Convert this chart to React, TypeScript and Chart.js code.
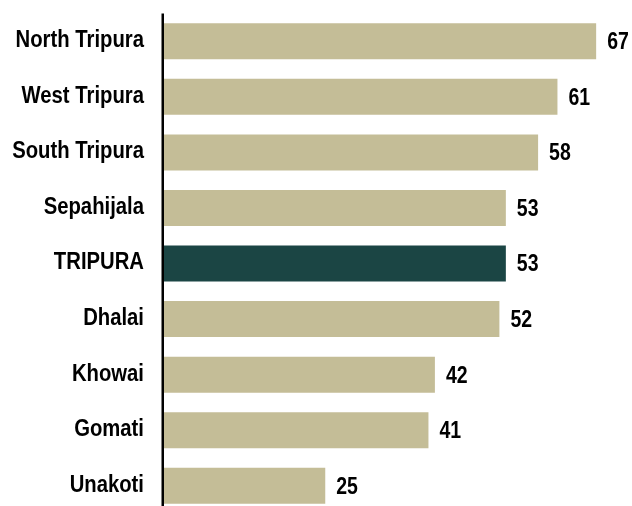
import React, { useEffect, useRef } from "react";
import { Chart, registerables } from "chart.js";

Chart.register(...registerables);

const categories = [
  "North Tripura",
  "West Tripura",
  "South Tripura",
  "Sepahijala",
  "TRIPURA",
  "Dhalai",
  "Khowai",
  "Gomati",
  "Unakoti",
];
const values = [67, 61, 58, 53, 53, 52, 42, 41, 25];
const barColors = [
  "#C4BD97",
  "#C4BD97",
  "#C4BD97",
  "#C4BD97",
  "#1B4544",
  "#C4BD97",
  "#C4BD97",
  "#C4BD97",
  "#C4BD97",
];

const FONT = "'Liberation Sans', Arial, sans-serif";

function drawStretched(ctx: any, text: string, x: number, y: number, sy: number) {
  ctx.save();
  ctx.translate(x, y);
  ctx.scale(1, sy);
  ctx.fillText(text, 0, 0);
  ctx.restore();
}

const textPlugin = {
  id: "textLabels",
  afterDatasetsDraw(chart: any) {
    const ctx = chart.ctx;
    const meta = chart.getDatasetMeta(0);
    const yScale = chart.scales.y;
    ctx.save();
    ctx.fillStyle = "#000";
    ctx.textBaseline = "middle";
    // value labels
    ctx.font = `bold 19.5px ${FONT}`;
    ctx.textAlign = "left";
    meta.data.forEach((bar: any, i: number) => {
      drawStretched(ctx, String(values[i]), bar.x + 11, bar.y + 1.5, 1.18);
    });
    // category labels
    ctx.font = `bold 20.3px ${FONT}`;
    ctx.textAlign = "right";
    yScale.ticks.forEach((t: any, i: number) => {
      const label = chart.data.labels[t.value ?? i];
      const y = yScale.getPixelForTick(i);
      drawStretched(ctx, String(label), chart.chartArea.left - 20, y - 0.5, 1.14);
    });
    // axis line
    ctx.strokeStyle = "#000";
    ctx.lineWidth = 2.5;
    const x = chart.chartArea.left - 1.25;
    ctx.beginPath();
    ctx.moveTo(x, chart.chartArea.top);
    ctx.lineTo(x, chart.chartArea.bottom + 10);
    ctx.stroke();
    ctx.restore();
  },
};

export default function App() {
  const canvasRef = useRef<HTMLCanvasElement | null>(null);

  useEffect(() => {
    document.body.style.margin = "0";
    document.body.style.overflow = "hidden";
    const canvas = canvasRef.current;
    if (!canvas) return;
    const chart = new Chart(canvas, {
      type: "bar",
      data: {
        labels: categories,
        datasets: [
          {
            data: values,
            backgroundColor: barColors,
            borderWidth: 0,
            categoryPercentage: 1,
            barPercentage: 0.648,
          },
        ],
      },
      options: {
        indexAxis: "y",
        animation: false,
        responsive: true,
        maintainAspectRatio: false,
        layout: { padding: { top: 13.5, bottom: 6.4, left: 0, right: 16.5 } },
        plugins: {
          legend: { display: false },
          tooltip: { enabled: false },
        },
        scales: {
          x: {
            display: false,
            min: 0,
            max: 70,
          },
          y: {
            grid: { display: false, drawTicks: false },
            border: { display: false },
            ticks: { display: false, padding: 0 },
            afterFit: (scale: any) => {
              scale.width = 164;
              scale.paddingTop = 0;
              scale.paddingBottom = 0;
            },
          },
        },
      },
      plugins: [textPlugin],
    });
    return () => chart.destroy();
  }, []);

  return (
    <div
      style={{
        position: "fixed",
        top: 0,
        left: 0,
        width: 632,
        height: 506,
        overflow: "hidden",
        background: "#fff",
      }}
    >
      <div style={{ position: "relative", width: 632, height: 520 }}>
        <canvas ref={canvasRef} />
      </div>
    </div>
  );
}
